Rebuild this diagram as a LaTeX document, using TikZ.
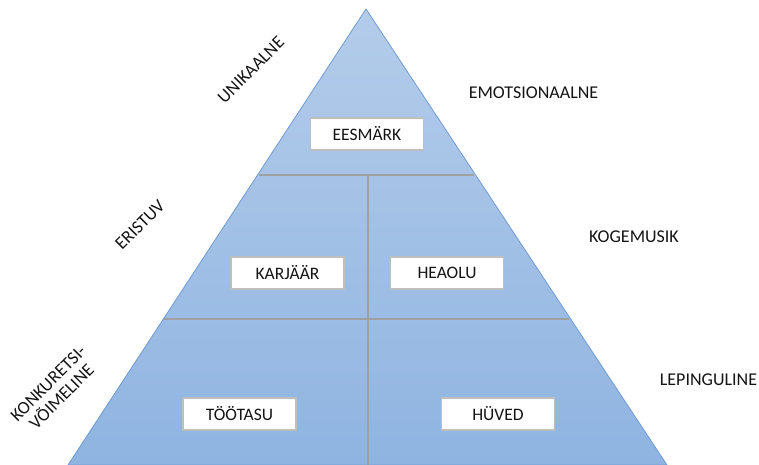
\documentclass[tikz,border=0pt]{standalone}
\usepackage{fontspec}
\setmainfont{Carlito}
\definecolor{topc}{RGB}{180,204,234}
\definecolor{botc}{RGB}{143,180,225}
\definecolor{edgec}{RGB}{110,155,210}
\definecolor{divc}{RGB}{160,160,160}
\definecolor{boxc}{RGB}{190,190,190}
\definecolor{txt}{RGB}{20,20,20}
\begin{document}
\begin{tikzpicture}[x=1pt,y=-1pt,
  lbl/.style={font=\fontsize{18}{19}\selectfont, text=txt, inner sep=1pt},
  tbox/.style={draw=boxc, line width=1.3pt, fill=white, minimum width=113pt, minimum height=32pt, font=\fontsize{17.5}{18}\selectfont, text=txt, inner sep=0pt},
  divline/.style={draw=divc, line width=2pt}]
\useasboundingbox (0,0) rectangle (759,465);
\coordinate (apex) at (366,9);
\coordinate (bl) at (68,465);
\coordinate (br) at (667,465);
\shade[top color=topc, bottom color=botc] (apex) -- (br) -- (bl) -- cycle;
% divisions
\coordinate (l1a) at (258.5,175);
\coordinate (l1b) at (473.5,175);
\coordinate (l2a) at (163,319);
\coordinate (l2b) at (569,319);
\coordinate (va) at (368,175);
\coordinate (vb) at (368,465);
\draw[divline] (l1a) -- (l1b);
\draw[divline] (l2a) -- (l2b);
\draw[divline] (va) -- (vb);
\draw[edgec, line width=0.8pt] (apex) -- (br) -- (bl) -- cycle;
% boxes
\node[tbox] (eesmark) at (367,134) {EESMÄRK};
\node[tbox] (karjaar) at (287.5,273) {KARJÄÄR};
\node[tbox] (heaolu) at (447,273) {HEAOLU};
\node[tbox] (tootasu) at (239.5,414) {TÖÖTASU};
\node[tbox] (huved) at (498,414) {HÜVED};
% right labels
\node[lbl] (emo) at (533.5,93) {EMOTSIONAALNE};
\node[lbl] (koge) at (634,237) {KOGEMUSIK};
\node[lbl] (lep) at (708.5,380) {LEPINGULINE};
% left rotated labels
\node[lbl, rotate=45] (unik) at (251,70) {UNIKAALNE};
\node[lbl, rotate=45] (eris) at (140,225) {ERISTUV};
\node[lbl, rotate=45, align=center, font=\fontsize{18}{19}\selectfont] (konk) at (55,390) {KONKURETSI-\\VÕIMELINE};
\end{tikzpicture}
\end{document}
